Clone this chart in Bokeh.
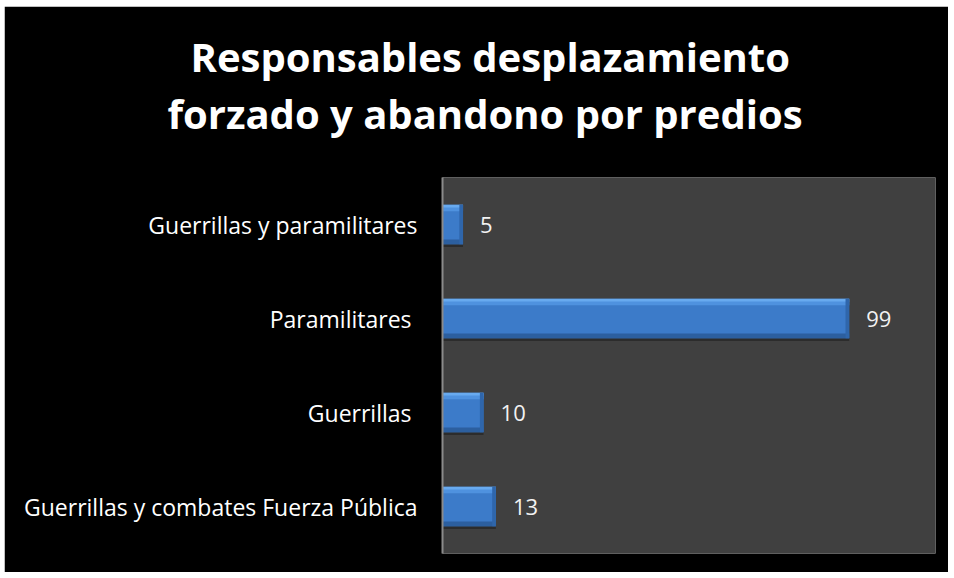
from bokeh.plotting import figure
from bokeh.models import ColumnDataSource, FactorRange, Range1d, Title
from bokeh.transform import dodge
from bokeh.core.properties import value
from bokeh.embed import file_html
from bokeh.resources import INLINE

# Data (top to bottom as shown)
categories = ["Guerrillas y paramilitares", "Paramilitares ", "Guerrillas ",
              "Guerrillas y combates Fuerza Pública"]
values = [5, 99, 10, 13]
title_lines = ["Responsables desplazamiento", "forzado y abandono por predios"]

src = ColumnDataSource(dict(
    cat=categories,
    val=values,
    edge=[v - 0.9 for v in values],
    lab=[str(v) for v in values],
))

p = figure(width=944, height=566,
           y_range=FactorRange(*reversed(categories)),
           x_range=Range1d(0, 120),
           output_backend="svg", toolbar_location=None,
           min_border_left=438, min_border_right=13,
           min_border_top=171, min_border_bottom=19,
           margin=(6, 6, 6, 4))

p.background_fill_color = "#404040"
p.border_fill_color = "#000000"
p.outline_line_color = None
p.grid.visible = False
p.xaxis.visible = False

ax = p.yaxis[0]
ax.axis_line_color = "#8a8a8a"
ax.axis_line_width = 2
ax.major_tick_line_color = None
ax.minor_tick_line_color = None
ax.major_tick_out = 0
ax.major_tick_in = 0
ax.major_label_standoff = 25
ax.major_label_text_font = "Open Sans"
ax.major_label_text_font_size = "23px"
ax.major_label_text_color = "#ffffff"

H = 0.42
# drop shadow
p.hbar(y=dodge("cat", -0.03, range=p.y_range), right="val", left=0, height=H,
       source=src, fill_color="#000000", fill_alpha=0.3, line_color=None)
# main bar
p.hbar(y="cat", right="val", left=0, height=H, source=src,
       fill_color="#3c7bc9", line_color=None)
# top highlight (two-step gradient)
p.hbar(y=dodge("cat", 0.165, range=p.y_range), right="val", left=0, height=0.05,
       source=src, fill_color="#4f92df", line_color=None)
p.hbar(y=dodge("cat", 0.195, range=p.y_range), right="val", left=0, height=0.03,
       source=src, fill_color="#68aaef", line_color=None)
# bottom darker edge
p.hbar(y=dodge("cat", -0.185, range=p.y_range), right="val", left=0, height=0.05,
       source=src, fill_color="#2c5f9f", line_color=None)
# right darker edge
p.hbar(y="cat", right="val", left="edge", height=H, source=src,
       fill_color="#2f66ab", line_color=None)

p.text(x="val", y="cat", text="lab", source=src, x_offset=17,
       text_baseline="middle", text_align="left",
       text_font=value("Open Sans"), text_font_size="22px", text_color="#f2f2f2")

# title: spacer nearest the frame, then line 2, then line 1
p.add_layout(Title(text=" ", standoff=8, text_font_size="20px",
                   text_font="Open Sans", text_color="#000000"), "above")
for txt, off in zip(reversed(title_lines), [-275, -252]):
    p.add_layout(Title(text=txt, align="left", offset=off, standoff=0,
                       text_font="Open Sans", text_font_style="bold",
                       text_font_size="40px", text_color="#ffffff"), "above")

open("out.html", "w").write(file_html(p, INLINE))
